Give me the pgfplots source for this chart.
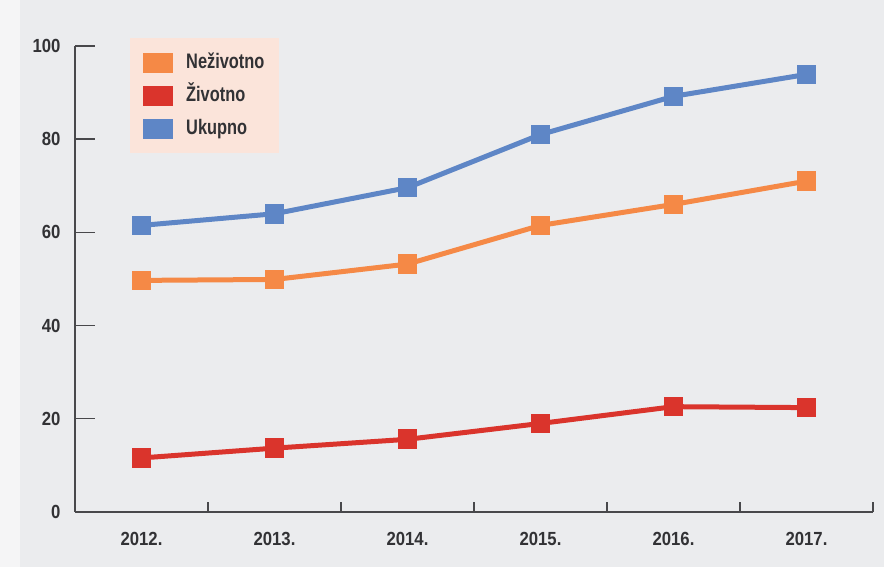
\documentclass[border=0pt]{standalone}
\usepackage{fontspec}
\setmainfont{Liberation Sans}[FakeStretch=0.88]
\newfontfamily\legfont{Liberation Sans}[FakeStretch=0.78]
\usepackage{pgfplots}
\pgfplotsset{compat=1.18}

\definecolor{bgc}{RGB}{235,236,238}
\definecolor{txt}{RGB}{50,50,53}
\definecolor{axc}{RGB}{72,72,75}
\definecolor{legbg}{RGB}{251,228,218}
\definecolor{cnez}{RGB}{245,137,70}
\definecolor{cziv}{RGB}{218,52,44}
\definecolor{cuk}{RGB}{94,134,198}

\begin{document}
\begin{tikzpicture}
\fill[bgc] (0,0) rectangle (884pt,567pt);
\fill[white,opacity=0.5] (0,0) rectangle (20pt,567pt);
\begin{axis}[
    at={(75pt,55pt)}, anchor=south west,
    scale only axis,
    width=798pt, height=466pt,
    xmin=-0.5, xmax=5.5,
    ymin=0, ymax=100,
    axis lines=left,
    axis line style={-, axc, line width=1.4pt},
    % category boundaries carry the short x ticks
    xtick={0.5,1.5,2.5,3.5,4.5,5.5},
    xticklabels={},
    major tick length=10pt,
    tick align=inside,
    tick style={axc, line width=1.4pt},
    ytick=\empty,
    extra y ticks={0,20,40,60,80,100},
    extra y tick style={major tick length=20pt, yticklabel style={xshift=-11pt}},
    extra x ticks={0,1,2,3,4,5},
    extra x tick labels={2012.,2013.,2014.,2015.,2016.,2017.},
    extra x tick style={major tick length=0pt, xticklabel style={yshift=-17pt}},
    /pgf/number format/assume math mode=true,
    ticklabel style={font=\fontsize{19}{21}\selectfont\bfseries, text=txt},
    clip=false,
    legend cell align=left,
    legend image code/.code={\fill[#1, draw=none] (0pt,-10pt) rectangle (30pt,10pt);},
    legend style={at={(0.0689,1.017)}, anchor=north west, draw=none, fill=legbg,
        inner xsep=13pt, inner ysep=13pt, row sep=10pt, column sep=11pt,
        nodes={inner sep=2pt, text=txt, text height=15pt, text depth=4pt,
               font=\legfont\fontsize{21}{23}\selectfont\bfseries}},
    every axis plot/.append style={line width=5pt, mark=square*, mark size=7.3pt},
]
\addplot[cnez] coordinates {(0,49.7) (1,49.9) (2,53.2) (3,61.5) (4,66.0) (5,71.0)};
\addlegendentry{Neživotno}
\addplot[cziv] coordinates {(0,11.6) (1,13.7) (2,15.6) (3,19.0) (4,22.6) (5,22.4)};
\addlegendentry{Životno}
\addplot[cuk] coordinates {(0,61.5) (1,64.0) (2,69.6) (3,81.0) (4,89.2) (5,93.9)};
\addlegendentry{Ukupno}
\end{axis}
\pgfresetboundingbox
\useasboundingbox (0,0) rectangle (884pt,567pt);
\end{tikzpicture}
\end{document}
